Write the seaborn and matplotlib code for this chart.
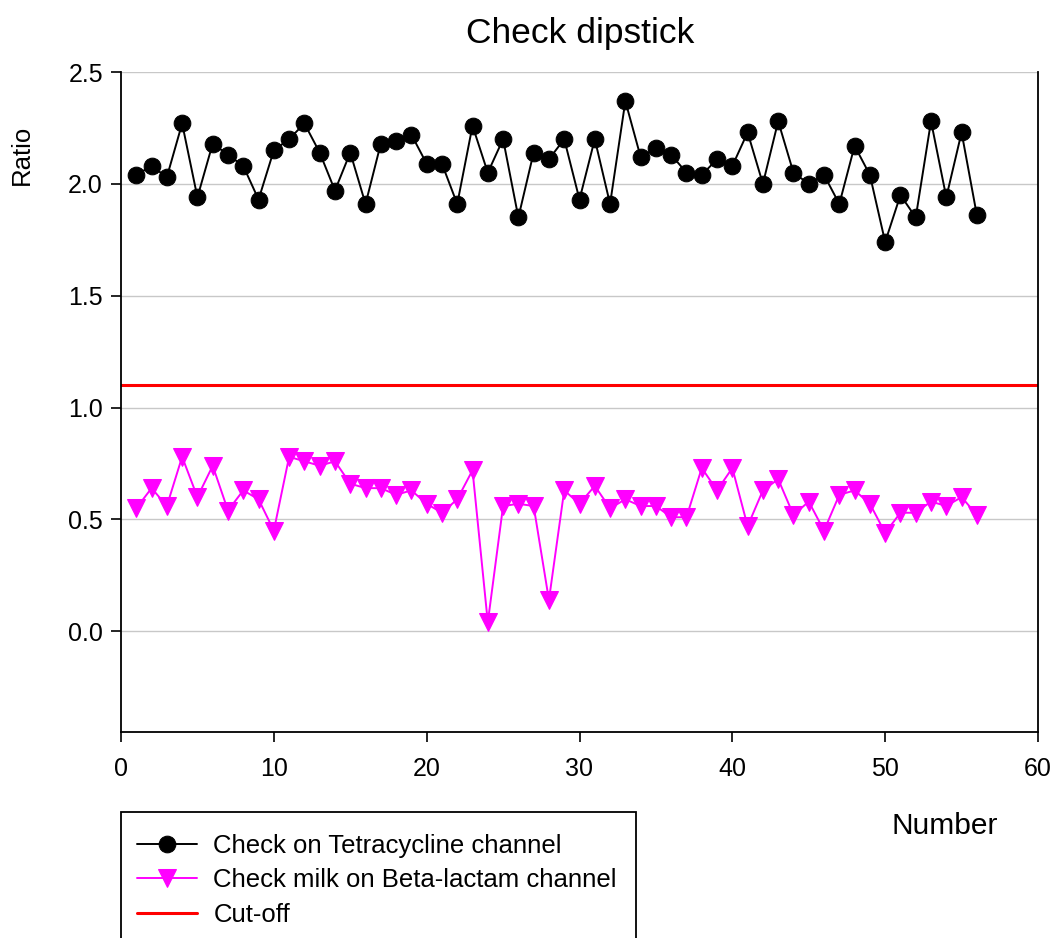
import matplotlib
matplotlib.use("Agg")
import matplotlib.pyplot as plt
from matplotlib.patches import Rectangle
import seaborn as sns
import numpy as np

number = list(range(1, 57))
tetracycline = [2.04, 2.08, 2.03, 2.27, 1.94, 2.18, 2.13, 2.08, 1.93, 2.15,
                2.20, 2.27, 2.14, 1.97, 2.14, 1.91, 2.18, 2.19, 2.22, 2.09,
                2.09, 1.91, 2.26, 2.05, 2.20, 1.85, 2.14, 2.11, 2.20, 1.93,
                2.20, 1.91, 2.37, 2.12, 2.16, 2.13, 2.05, 2.04, 2.11, 2.08,
                2.23, 2.00, 2.28, 2.05, 2.00, 2.04, 1.91, 2.17, 2.04, 1.74,
                1.95, 1.85, 2.28, 1.94, 2.23, 1.86]
beta_lactam = [0.55, 0.64, 0.56, 0.78, 0.60, 0.74, 0.54, 0.63, 0.59, 0.45,
               0.78, 0.76, 0.74, 0.76, 0.66, 0.64, 0.64, 0.61, 0.63, 0.57,
               0.53, 0.59, 0.72, 0.04, 0.56, 0.57, 0.56, 0.14, 0.63, 0.57,
               0.65, 0.55, 0.59, 0.56, 0.56, 0.51, 0.51, 0.73, 0.63, 0.73,
               0.47, 0.63, 0.68, 0.52, 0.58, 0.45, 0.61, 0.63, 0.57, 0.44,
               0.53, 0.53, 0.58, 0.56, 0.60, 0.52]
cutoff = 1.1
labels = ["Check on Tetracycline channel", "Check milk on Beta-lactam channel", "Cut-off"]
title = "Check dipstick"

sns.set_style("white")
plt.rcParams['font.family'] = ['Liberation Sans', 'DejaVu Sans']
plt.rcParams['text.color'] = 'black'

W, H = 1057, 938
fig = plt.figure(figsize=(W / 100, H / 100), dpi=100)
ax = fig.add_axes([121 / W, 1 - 732 / H, (1038 - 121) / W, (732 - 72) / H])

for y in [0.0, 0.5, 1.0, 1.5, 2.0, 2.5]:
    ax.axhline(y, color='#c8c8c8', lw=1.0, zorder=0)

ax.axhline(cutoff, color='red', lw=2.2, zorder=1, label=labels[2])
sns.lineplot(x=number, y=tetracycline, ax=ax, color='black', lw=1.4,
             marker='o', markersize=12, markeredgecolor='black',
             markerfacecolor='black', label=labels[0], zorder=3)
sns.lineplot(x=number, y=beta_lactam, ax=ax, color='magenta', lw=1.4,
             marker='v', markersize=12.5, markeredgecolor='magenta',
             markerfacecolor='magenta', label=labels[1], zorder=3)

ax.set_xlim(0, 60)
ax.set_ylim(-0.45, 2.5)
ax.set_xticks([0, 10, 20, 30, 40, 50, 60])
ax.set_yticks([0.0, 0.5, 1.0, 1.5, 2.0, 2.5])
ax.set_yticklabels(["0.0", "0.5", "1.0", "1.5", "2.0", "2.5"])
ax.tick_params(axis='both', direction='out', length=7, width=1.2,
               labelsize=18, color='black', labelcolor='black', pad=6)
ax.tick_params(axis='x', pad=11)
ax.tick_params(left=True, bottom=True)
for s in ['left', 'bottom', 'right']:
    ax.spines[s].set_visible(True)
    ax.spines[s].set_color('black')
    ax.spines[s].set_linewidth(1.3)
ax.spines['top'].set_visible(False)
ax.set_xlabel("")
ax.set_ylabel("")

fig.text(580 / W, 1 - 33 / H, title, ha='center', va='center', fontsize=25.5, color='black')
fig.text(22 / W, 1 - 155 / H, "Ratio", ha='center', va='center', rotation=90, fontsize=18.5, color='black')
fig.text(945 / W, 1 - 826 / H, "Number", ha='center', va='center', fontsize=21.5, color='black')

handles, labs = ax.get_legend_handles_labels()
order = [labs.index(l) for l in labels]
if ax.legend_:
    ax.legend_.remove()
fig.add_artist(Rectangle((121 / W, -0.02), (636 - 121) / W, (1 - 812 / H) + 0.02,
                         transform=fig.transFigure, fill=False, edgecolor='black', lw=1.3,
                         clip_on=False))
leg = fig.legend([handles[i] for i in order], [labs[i] for i in order],
                 loc='upper left', bbox_to_anchor=(137 / W, 1 - 834 / H),
                 frameon=False, fontsize=18.5, handlelength=2.35, handletextpad=0.62,
                 labelspacing=0.4, borderaxespad=0, borderpad=0)
for t in leg.get_texts():
    t.set_color('black')

fig.savefig("out.png", dpi=100)
